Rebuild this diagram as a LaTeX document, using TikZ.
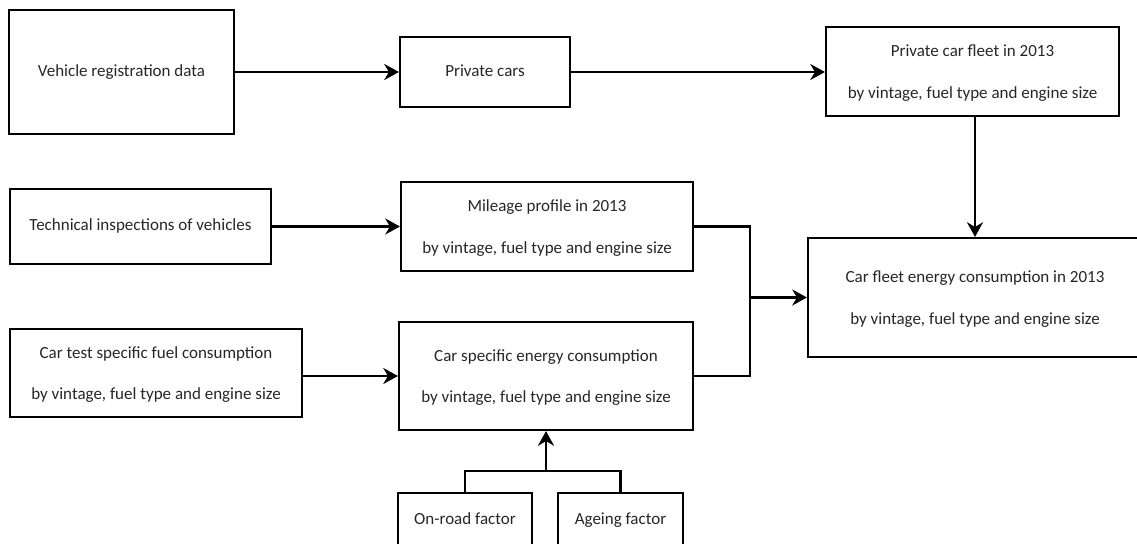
\documentclass[tikz,border=0pt]{standalone}
\usepackage{fontspec}
\setmainfont{Carlito}
\usetikzlibrary{arrows.meta}
\tikzset{
  box/.style={draw=black, line width=1.6pt, inner sep=0pt, align=center,
    font=\fontsize{12.75}{31}\selectfont, text=black!85},
  one/.style={text height=9pt, text depth=3pt},
  two/.style={text depth=-1.5pt},
  conn/.style={line width=1.6pt, draw=black},
  arr/.style={conn, -{Stealth[length=11pt, width=12pt, inset=3.5pt]}}
}
\begin{document}
\begin{tikzpicture}[x=0.75pt, y=-0.75pt]
\useasboundingbox (0,0) rectangle (1137,543);
\node[box, one, minimum width=168.75pt, minimum height=93pt] (veh) at (121.5,72) {Vehicle registration data};
\node[box, one, minimum width=127.5pt, minimum height=52.5pt] (priv) at (485,72) {Private cars};
\node[box, two, minimum width=219.75pt, minimum height=66.75pt] (fleet) at (972.5,71.5) {Private car fleet in 2013\\by vintage, fuel type and engine size};
\node[box, one, minimum width=195.75pt, minimum height=56.25pt] (tech) at (140.5,226.5) {Technical inspections of vehicles};
\node[box, two, minimum width=219pt, minimum height=66.75pt] (mil) at (547,226.5) {Mileage profile in 2013\\by vintage, fuel type and engine size};
\node[box, two, minimum width=219pt, minimum height=66pt] (test) at (156,373) {Car test specific fuel consumption\\by vintage, fuel type and engine size};
\node[box, two, minimum width=220.5pt, minimum height=81pt] (spec) at (546,376) {Car specific energy consumption\\by vintage, fuel type and engine size};
\node[box, two, minimum width=250.5pt, minimum height=89.25pt] (energy) at (975,297.5) {Car fleet energy consumption in 2013\\by vintage, fuel type and engine size};
\node[box, one, minimum width=100.5pt, minimum height=40.5pt] (road) at (465,520) {On-road factor};
\node[box, one, minimum width=93.75pt, minimum height=40.5pt] (age) at (620.5,520) {Ageing factor};
\coordinate (join) at (750,297.5);
\coordinate (fjoin) at (546,471);
\draw[arr] (veh.east |- priv.west) -- (priv.west);
\draw[arr] (priv.east) -- (fleet.west |- priv.east);
\draw[arr] (fleet.south -| energy.north) -- (energy.north);
\draw[arr] (tech.east) -- (mil.west);
\draw[arr] (test.east |- spec.west) -- (spec.west);
\draw[conn] (mil.east) -| (join);
\draw[conn] (spec.east) -| (join);
\draw[arr] (join) -- (energy.west);
\draw[conn] (road.north) |- (fjoin);
\draw[conn] (age.north) |- (fjoin);
\draw[arr] (fjoin) -- (spec.south);
\end{tikzpicture}
\end{document}
